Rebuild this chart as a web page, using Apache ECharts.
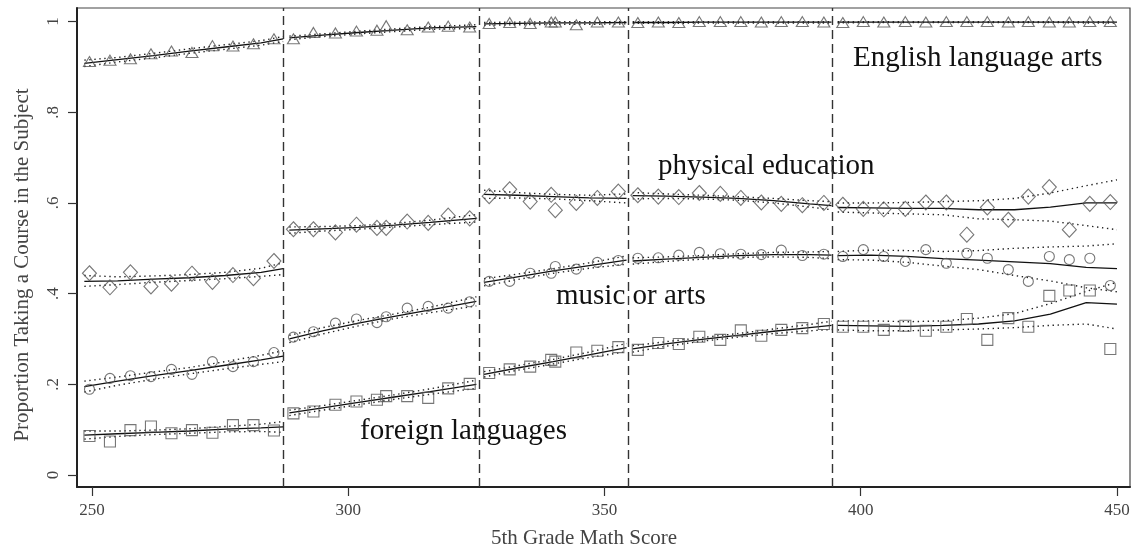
<!DOCTYPE html>
<html>
<head>
<meta charset="utf-8">
<script src="https://cdn.jsdelivr.net/npm/echarts@6/dist/echarts.min.js"></script>
<style>
  html, body { margin: 0; padding: 0; background: #fff; }
  #main { width: 1136px; height: 554px; }
</style>
</head>
<body>
<div id="main"></div>
<script>
// cut scores (dashed lines)
const cutoffs = [287.3, 325.6, 354.7, 394.5];

// x of the binned score markers, one list per segment
const scoreX = [
  [249.5, 253.5, 257.5, 261.5, 265.5, 269.5, 273.5, 277.5, 281.5, 285.5],
  [289.3, 293.2, 297.5, 301.6, 305.6, 307.4, 311.5, 315.6, 319.5, 323.7],
  [327.5, 331.5, 335.5, 339.6, 340.4, 344.5, 348.6, 352.7],
  [356.5, 360.5, 364.5, 368.5, 372.6, 376.6, 380.6, 384.5, 388.6, 392.8],
  [396.5, 400.5, 404.5, 408.7, 412.7, 416.7, 420.7, 424.7, 428.8, 432.7, 436.8, 440.7, 444.7, 448.7]
];

// binned proportions (markers)
const elaPts = [
  [0.912, 0.915, 0.918, 0.929, 0.935, 0.932, 0.947, 0.946, 0.951, 0.962],
  [0.962, 0.976, 0.975, 0.979, 0.981, 0.991, 0.982, 0.988, 0.990, 0.988],
  [0.996, 0.998, 0.996, 0.999, 0.999, 0.993, 0.999, 0.999],
  [0.998, 0.999, 0.998, 1.0, 1.0, 1.0, 0.999, 1.0, 1.0, 0.999],
  [0.998, 1.0, 0.999, 1.0, 0.999, 1.0, 1.0, 1.0, 0.999, 1.0, 0.999, 0.999, 1.0, 1.0]
];
const pePts = [
  [0.445, 0.414, 0.447, 0.416, 0.422, 0.444, 0.426, 0.441, 0.434, 0.472],
  [0.542, 0.542, 0.535, 0.552, 0.545, 0.545, 0.559, 0.556, 0.572, 0.566],
  [0.615, 0.630, 0.603, 0.618, 0.584, 0.600, 0.611, 0.625],
  [0.617, 0.614, 0.613, 0.622, 0.620, 0.611, 0.601, 0.598, 0.595, 0.600],
  [0.596, 0.587, 0.586, 0.587, 0.601, 0.601, 0.530, 0.590, 0.563, 0.614, 0.635, 0.541, 0.598, 0.602]
];
const artsPts = [
  [0.189, 0.213, 0.219, 0.217, 0.233, 0.222, 0.250, 0.239, 0.250, 0.270],
  [0.304, 0.316, 0.335, 0.344, 0.336, 0.349, 0.368, 0.372, 0.368, 0.382],
  [0.427, 0.427, 0.445, 0.445, 0.460, 0.454, 0.469, 0.473],
  [0.478, 0.479, 0.485, 0.491, 0.488, 0.487, 0.486, 0.496, 0.484, 0.487],
  [0.482, 0.497, 0.482, 0.471, 0.497, 0.467, 0.489, 0.478, 0.453, 0.427, 0.482, 0.475, 0.478, 0.418]
];
const langPts = [
  [0.086, 0.074, 0.099, 0.107, 0.092, 0.099, 0.093, 0.110, 0.110, 0.098],
  [0.136, 0.140, 0.155, 0.162, 0.166, 0.174, 0.174, 0.170, 0.191, 0.201],
  [0.225, 0.233, 0.239, 0.254, 0.250, 0.270, 0.274, 0.282],
  [0.276, 0.291, 0.289, 0.305, 0.298, 0.319, 0.307, 0.320, 0.324, 0.333],
  [0.327, 0.327, 0.320, 0.329, 0.318, 0.327, 0.344, 0.298, 0.346, 0.327, 0.395, 0.407, 0.407, 0.278]
];

// x of the fitted curves, one list per segment
const fitX = [
  [248.5, 255, 262, 269, 276, 283, 287.3],
  [288.5, 295, 302, 309, 316, 325],
  [326.5, 333, 340, 347, 354.3],
  [355.5, 362, 369, 376, 383, 390, 394.3],
  [395.5, 402, 409, 416, 423, 430, 437, 444, 450]
];

// fitted curve and confidence band per subject
const elaFit = [[0.908,0.916,0.925,0.935,0.944,0.953,0.962],[0.964,0.970,0.976,0.981,0.986,0.989],[0.995,0.996,0.997,0.997,0.998],[0.998,0.998,0.999,0.999,0.999,0.999,0.999],[0.999,0.999,0.999,0.999,0.999,0.999,0.999,0.999,0.999]];
const elaLo  = [[0.901,0.911,0.920,0.930,0.939,0.948,0.956],[0.960,0.967,0.973,0.978,0.983,0.985],[0.992,0.993,0.994,0.994,0.995],[0.996,0.996,0.997,0.997,0.997,0.997,0.997],[0.997,0.998,0.998,0.998,0.998,0.998,0.998,0.997,0.997]];
const elaHi  = [[0.915,0.921,0.930,0.940,0.949,0.958,0.967],[0.968,0.973,0.979,0.984,0.989,0.993],[0.998,0.999,1.0,1.0,1.0],[1.0,1.0,1.0,1.0,1.0,1.0,1.0],[1.0,1.0,1.0,1.0,1.0,1.0,1.0,1.0,1.0]];

const peFit = [[0.427,0.428,0.432,0.435,0.440,0.447,0.455],[0.540,0.543,0.546,0.551,0.557,0.566],[0.619,0.617,0.614,0.611,0.610],[0.616,0.615,0.613,0.610,0.605,0.598,0.594],[0.590,0.589,0.588,0.588,0.585,0.585,0.591,0.600,0.600]];
const peLo  = [[0.416,0.420,0.425,0.429,0.433,0.438,0.442],[0.533,0.538,0.542,0.547,0.552,0.558],[0.610,0.611,0.609,0.605,0.600],[0.609,0.610,0.609,0.606,0.600,0.591,0.585],[0.580,0.578,0.576,0.574,0.565,0.563,0.560,0.550,0.541]];
const peHi  = [[0.440,0.437,0.439,0.442,0.447,0.456,0.468],[0.547,0.548,0.550,0.555,0.562,0.574],[0.628,0.623,0.619,0.617,0.620],[0.623,0.620,0.617,0.614,0.610,0.605,0.603],[0.600,0.600,0.601,0.603,0.605,0.610,0.622,0.638,0.651]];

const artsFit = [[0.195,0.207,0.219,0.230,0.242,0.254,0.262],[0.300,0.318,0.335,0.350,0.364,0.383],[0.425,0.437,0.450,0.462,0.474],[0.472,0.476,0.480,0.484,0.486,0.486,0.485],[0.484,0.485,0.482,0.477,0.474,0.470,0.466,0.458,0.455]];
const artsLo  = [[0.183,0.198,0.211,0.223,0.234,0.244,0.250],[0.292,0.311,0.329,0.345,0.358,0.373],[0.417,0.431,0.445,0.456,0.465],[0.465,0.471,0.476,0.480,0.481,0.480,0.477],[0.475,0.474,0.469,0.461,0.453,0.440,0.428,0.413,0.404]];
const artsHi  = [[0.207,0.216,0.227,0.237,0.250,0.264,0.274],[0.308,0.325,0.341,0.355,0.370,0.393],[0.433,0.443,0.455,0.468,0.483],[0.479,0.481,0.484,0.488,0.491,0.492,0.493],[0.493,0.496,0.495,0.493,0.495,0.500,0.503,0.505,0.510]];

const langFit = [[0.088,0.091,0.094,0.097,0.101,0.104,0.106],[0.137,0.148,0.160,0.172,0.184,0.200],[0.222,0.236,0.250,0.265,0.281],[0.278,0.289,0.299,0.308,0.317,0.325,0.330],[0.330,0.329,0.328,0.330,0.333,0.340,0.355,0.380,0.377]];
const langLo  = [[0.079,0.085,0.089,0.092,0.095,0.096,0.094],[0.131,0.143,0.155,0.167,0.178,0.191],[0.216,0.231,0.245,0.259,0.272],[0.271,0.284,0.295,0.304,0.312,0.318,0.321],[0.320,0.318,0.318,0.320,0.322,0.325,0.330,0.333,0.322]];
const langHi  = [[0.097,0.097,0.099,0.102,0.107,0.112,0.118],[0.143,0.153,0.165,0.177,0.190,0.209],[0.228,0.241,0.255,0.271,0.290],[0.285,0.294,0.303,0.312,0.322,0.332,0.339],[0.340,0.340,0.338,0.340,0.346,0.356,0.378,0.405,0.425]];

const xTicks = [250, 300, 350, 400, 450];
const yTicks = [0, 0.2, 0.4, 0.6, 0.8, 1];

const SERIF = '"Liberation Serif", "DejaVu Serif", serif';

// join the segments, with a gap at every cut score
function joinSegs(xs, ys) {
  const out = [];
  xs.forEach((seg, s) => {
    seg.forEach((x, i) => out.push([x, ys[s][i]]));
    if (s < xs.length - 1) out.push([seg[seg.length - 1], '-']);
  });
  return out;
}
function points(ys) {
  const out = [];
  scoreX.forEach((seg, s) => seg.forEach((x, i) => out.push([x, ys[s][i]])));
  return out;
}

function fitLine(ys) {
  return {
    type: 'line', data: joinSegs(fitX, ys), showSymbol: false, symbol: 'none',
    lineStyle: { color: '#111', width: 1.3 }, z: 3
  };
}
function bandLine(ys) {
  return {
    type: 'line', data: joinSegs(fitX, ys), showSymbol: false, symbol: 'none',
    lineStyle: { color: '#222', width: 1.4, type: [1.4, 3.6] }, z: 3
  };
}
function markers(ys, symbol, size) {
  return {
    type: 'scatter', data: points(ys), symbol: symbol, symbolSize: size,
    itemStyle: { color: 'rgba(0,0,0,0)', borderColor: '#555', borderWidth: 1.1 }, z: 4
  };
}

const series = [
  markers(elaPts, 'triangle', [12, 10]),
  markers(pePts, 'diamond', [14, 15]),
  markers(artsPts, 'circle', 10),
  markers(langPts, 'rect', 11),
  fitLine(elaFit), bandLine(elaLo), bandLine(elaHi),
  fitLine(peFit), bandLine(peLo), bandLine(peHi),
  fitLine(artsFit), bandLine(artsLo), bandLine(artsHi),
  fitLine(langFit), bandLine(langLo), bandLine(langHi)
];
// dashed cut-score lines
series.push({
  type: 'line', data: [],
  markLine: {
    silent: true, symbol: 'none', label: { show: false },
    lineStyle: { color: '#333', width: 1.4, type: [9, 5] },
    data: cutoffs.map(c => ({ xAxis: c }))
  }
});

const chart = echarts.init(document.getElementById('main'));
chart.setOption({
  animation: false,
  backgroundColor: '#fff',
  grid: {
    left: 77, right: 6, top: 8, bottom: 67,
    show: true, borderColor: '#444', borderWidth: 1.2
  },
  xAxis: {
    type: 'value', min: 247.07, max: 452.54,
    splitLine: { show: false },
    axisLine: { show: true, onZero: false, lineStyle: { color: '#222', width: 2 } },
    axisTick: { show: true, customValues: xTicks, length: 9, lineStyle: { color: '#333', width: 1.2 } },
    axisLabel: { customValues: xTicks, margin: 15, color: '#444', fontFamily: SERIF, fontSize: 17 }
  },
  yAxis: {
    type: 'value', min: -0.0265, max: 1.030,
    splitLine: { show: false },
    axisLine: { show: true, onZero: false, lineStyle: { color: '#222', width: 2 } },
    axisTick: { show: true, customValues: yTicks, length: 9, lineStyle: { color: '#333', width: 1.2 } },
    axisLabel: {
      customValues: yTicks, rotate: 90, margin: 15, color: '#444', fontFamily: SERIF, fontSize: 17,
      formatter: v => (v === 0 ? '0' : v === 1 ? '1' : String(+v.toFixed(1)).replace('0.', '.'))
    }
  },
  graphic: [
    { type: 'text', x: 584, y: 538, style: { text: '5th Grade Math Score', font: '21px ' + SERIF, fill: '#444', textAlign: 'center', textVerticalAlign: 'middle' } },
    { type: 'text', x: 22, y: 265, rotation: Math.PI / 2, style: { text: 'Proportion Taking a Course in the Subject', font: '21px ' + SERIF, fill: '#444', textAlign: 'center', textVerticalAlign: 'middle' } },
    { type: 'text', x: 853, y: 58, style: { text: 'English language arts', font: '29px ' + SERIF, fill: '#111', textAlign: 'left', textVerticalAlign: 'middle' } },
    { type: 'text', x: 658, y: 166, style: { text: 'physical education', font: '29px ' + SERIF, fill: '#111', textAlign: 'left', textVerticalAlign: 'middle' } },
    { type: 'text', x: 556, y: 296, style: { text: 'music or arts', font: '29px ' + SERIF, fill: '#111', textAlign: 'left', textVerticalAlign: 'middle' } },
    { type: 'text', x: 360, y: 431, style: { text: 'foreign languages', font: '29px ' + SERIF, fill: '#111', textAlign: 'left', textVerticalAlign: 'middle' } }
  ],
  series: series
});
</script>
</body>
</html>
